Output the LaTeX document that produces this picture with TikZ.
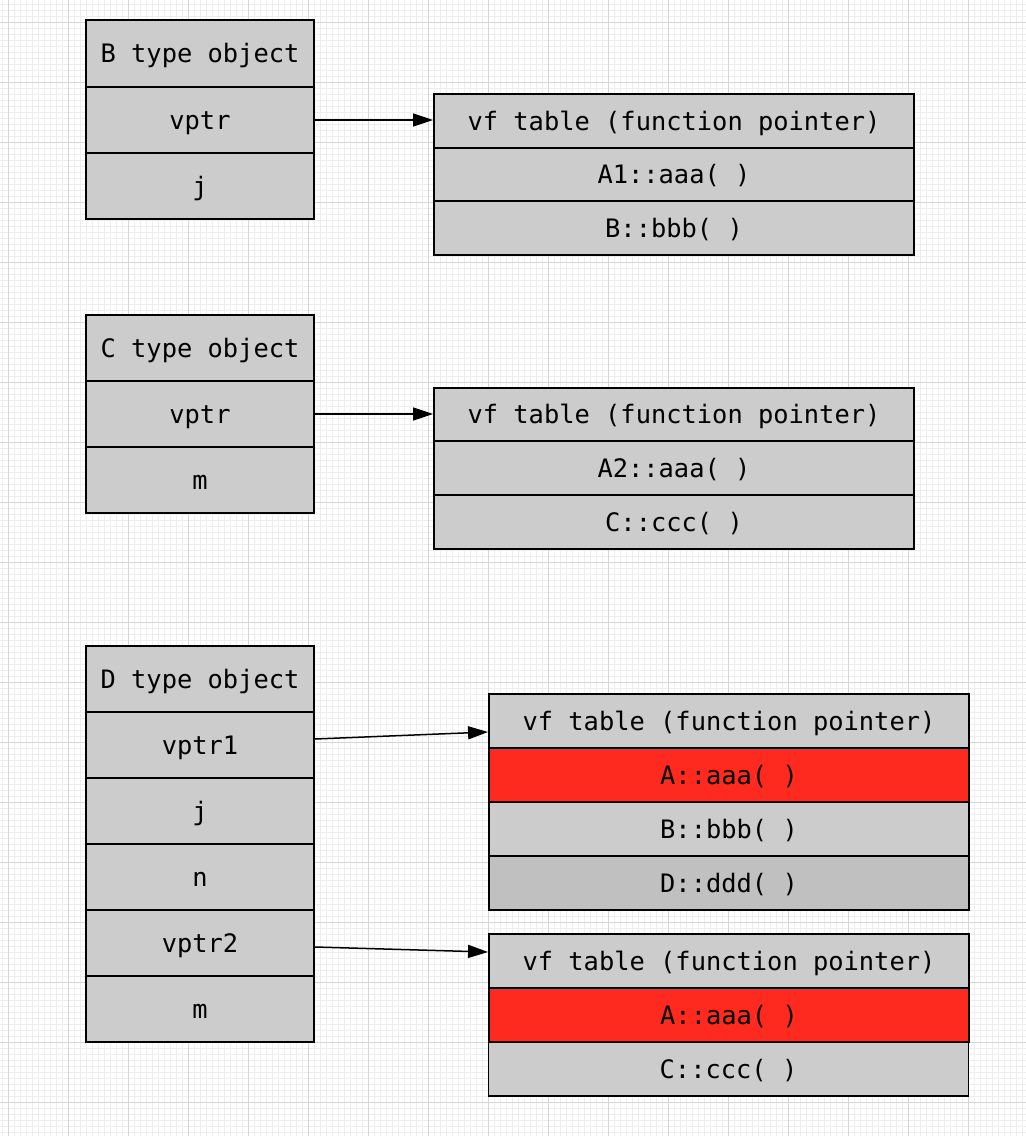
\documentclass[tikz,border=0pt]{standalone}
\usepackage{fontspec}
\setmonofont{DejaVu Sans Mono}
\usetikzlibrary{arrows.meta}
\definecolor{cellgray}{HTML}{CCCCCC}
\definecolor{cellgrayd}{HTML}{C0C0C0}
\definecolor{cellred}{HTML}{FF2A1F}
\definecolor{gridminor}{HTML}{EEEEEE}
\definecolor{gridmajor}{HTML}{D6D6D6}
\begin{document}
\begin{tikzpicture}[x=1pt,y=-1pt,
  cell/.style={draw=black, line width=1.9pt, fill=cellgray, rectangle, inner sep=0pt,
    font=\ttfamily\fontsize{25.4}{30}\selectfont, text=black,
    text height=24pt, text depth=5.6pt},
  objcell/.style={cell, minimum width=228pt, minimum height=66.3pt},
  tabcell/.style={cell, minimum width=480pt, minimum height=53.7pt},
  ptr/.style={line width=1.5pt, -{Triangle[length=20pt,width=13pt]}}]
\useasboundingbox (0,0) rectangle (1026,1136);
\fill[white] (0,0) rectangle (1026,1136);
\foreach \x in {2,8,...,1026} \draw[gridminor, line width=1pt] (\x,0) -- (\x,1136);
\foreach \y in {4,10,...,1136} \draw[gridminor, line width=1pt] (0,\y) -- (1026,\y);
\foreach \x in {8,68,...,1026} \draw[gridmajor, line width=1pt] (\x,0) -- (\x,1136);
\foreach \y in {22,82,...,1136} \draw[gridmajor, line width=1pt] (0,\y) -- (1026,\y);

% B object
\node[objcell] (b1) at (200,53.5) {B type object};
\node[objcell] (b2) at (200,120) {vptr};
\node[objcell] (b3) at (200,186) {j};
\node[tabcell] (t1) at (674,121) {vf table (function pointer)};
\node[tabcell] (t2) at (674,174.5) {A1::aaa( )};
\node[tabcell] (t3) at (674,228) {B::bbb( )};
\draw[ptr] (b2.east) -- (b2.east -| t1.west);

% C object
\node[objcell] (c1) at (200,348) {C type object};
\node[objcell] (c2) at (200,414) {vptr};
\node[objcell] (c3) at (200,480) {m};
\node[tabcell] (u1) at (674,414.5) {vf table (function pointer)};
\node[tabcell] (u2) at (674,468) {A2::aaa( )};
\node[tabcell] (u3) at (674,522) {C::ccc( )};
\draw[ptr] (c2.east) -- (c2.east -| u1.west);

% D object
\node[objcell] (d1) at (200,679) {D type object};
\node[objcell] (d2) at (200,745) {vptr1};
\node[objcell] (d3) at (200,811) {j};
\node[objcell] (d4) at (200,877) {n};
\node[objcell] (d5) at (200,943) {vptr2};
\node[objcell] (d6) at (200,1009) {m};

\node[tabcell] (e1) at (729,721) {vf table (function pointer)};
\node[tabcell, fill=cellred] (e2) at (729,775) {A::aaa( )};
\node[tabcell] (e3) at (729,829) {B::bbb( )};
\node[tabcell, fill=cellgrayd] (e4) at (729,883) {D::ddd( )};

\node[tabcell] (f1) at (729,961) {vf table (function pointer)};
\node[tabcell, fill=cellred] (f2) at (729,1015) {A::aaa( )};
\node[tabcell] (f3) at (728.5,1069) {C::ccc( )};

\draw[ptr] ([yshift=6pt]d2.east) -- ([yshift=-11pt]e1.west);
\draw[ptr] ([yshift=-4pt]d5.east) -- ([yshift=9pt]f1.west);
\end{tikzpicture}
\end{document}
